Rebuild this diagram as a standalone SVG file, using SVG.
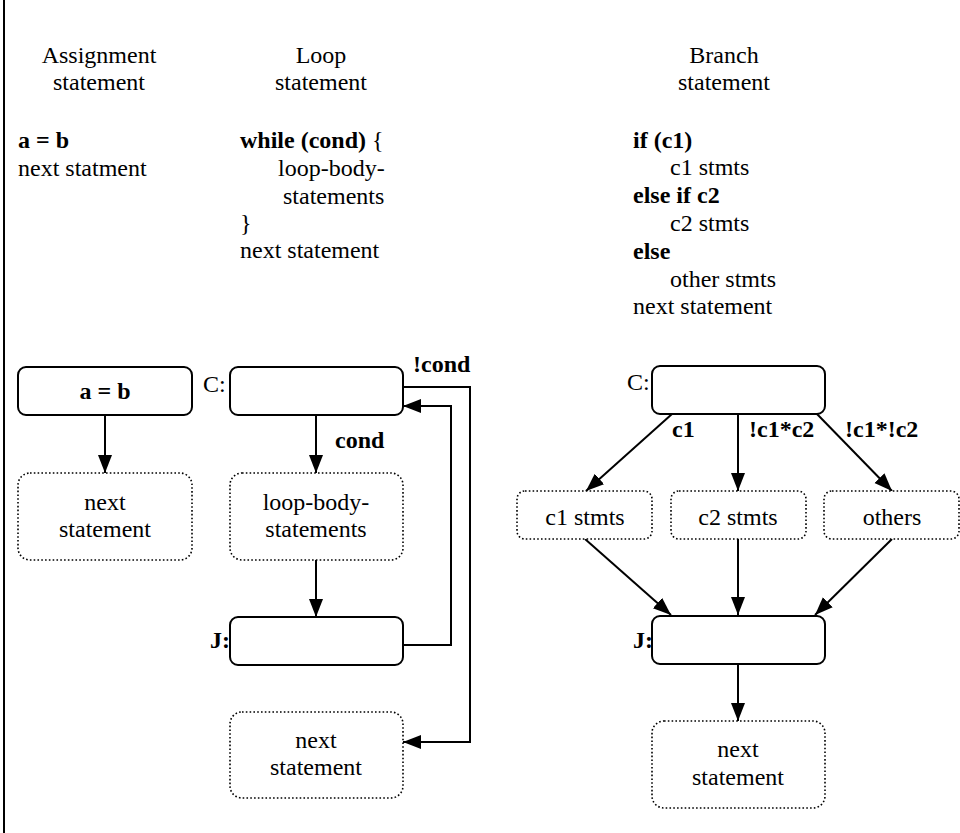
<svg xmlns="http://www.w3.org/2000/svg" width="960" height="833" viewBox="0 0 960 833" font-family="'Liberation Serif', 'Times New Roman', 'DejaVu Serif', serif">
<style>
text{font-family:'Liberation Serif','Times New Roman','DejaVu Serif',serif;font-size:24px;fill:#000}
.b{font-weight:bold}
.m{text-anchor:middle}
.solid{fill:#fff;stroke:#000;stroke-width:2}
.dot{fill:#fff;stroke:#000;stroke-width:1.6;stroke-dasharray:1.6 2.2}
.ln{fill:none;stroke:#000;stroke-width:2}
</style>
<defs>
<marker id="ah" markerUnits="userSpaceOnUse" markerWidth="20" markerHeight="16" refX="18" refY="7" orient="auto">
<path d="M0,0 L18,7 L0,14 z" fill="#000"/>
</marker>
</defs>
<rect width="960" height="833" fill="#fff"/>
<line x1="4" y1="0" x2="4" y2="833" stroke="#000" stroke-width="2"/>

<g id="headings">
<text class="m" x="99" y="63">Assignment</text>
<text class="m" x="99" y="90">statement</text>
<text class="m" x="321" y="63">Loop</text>
<text class="m" x="321" y="90">statement</text>
<text class="m" x="724" y="63">Branch</text>
<text class="m" x="724" y="90">statement</text>
</g>

<g id="code">
<text class="b" x="18" y="148">a = b</text>
<text x="18" y="176">next statment</text>
<text x="240" y="148"><tspan class="b">while (cond)</tspan> {</text>
<text x="278" y="176">loop-body-</text>
<text x="283" y="204">statements</text>
<text x="240" y="231">}</text>
<text x="240" y="258">next statement</text>
<text class="b" x="633" y="148">if (c1)</text>
<text x="670" y="175">c1 stmts</text>
<text class="b" x="633" y="203">else if c2</text>
<text x="670" y="231">c2 stmts</text>
<text class="b" x="633" y="259">else</text>
<text x="670" y="287">other stmts</text>
<text x="633" y="314">next statement</text>
</g>

<g id="connectors">
<line class="ln" x1="105" y1="415" x2="105" y2="473" marker-end="url(#ah)"/>
<line class="ln" x1="316" y1="415" x2="316" y2="473" marker-end="url(#ah)"/>
<line class="ln" x1="316" y1="560" x2="316" y2="617" marker-end="url(#ah)"/>
<polyline class="ln" points="403,645 451,645 451,406 403,406" marker-end="url(#ah)"/>
<polyline class="ln" points="403,387 470,387 470,742 403,742" marker-end="url(#ah)"/>
<line class="ln" x1="672" y1="414" x2="586" y2="491" marker-end="url(#ah)"/>
<line class="ln" x1="738" y1="414" x2="738" y2="491" marker-end="url(#ah)"/>
<line class="ln" x1="817" y1="414" x2="892" y2="491" marker-end="url(#ah)"/>
<line class="ln" x1="585" y1="539" x2="671" y2="615" marker-end="url(#ah)"/>
<line class="ln" x1="738" y1="539" x2="738" y2="615" marker-end="url(#ah)"/>
<line class="ln" x1="892" y1="539" x2="815" y2="615" marker-end="url(#ah)"/>
<line class="ln" x1="738" y1="664" x2="738" y2="721" marker-end="url(#ah)"/>
<text class="b" x="413" y="372">!cond</text>
<text class="b" x="335" y="448">cond</text>
<text class="b" x="672" y="437">c1</text>
<text class="b" x="749" y="437">!c1*c2</text>
<text class="b" x="845" y="437">!c1*!c2</text>
</g>

<g id="assign-node">
<rect class="solid" x="18" y="367" width="174" height="48" rx="8"/>
<text class="b m" x="105" y="399">a = b</text>
</g>
<g id="assign-next">
<rect class="dot" x="18" y="473" width="174" height="87" rx="12"/>
<text class="m" x="105" y="510">next</text>
<text class="m" x="105" y="537">statement</text>
</g>

<g id="loop-c">
<text x="203" y="392">C:</text>
<rect class="solid" x="230" y="367" width="173" height="48" rx="8"/>
</g>
<g id="loop-body">
<rect class="dot" x="230" y="473" width="173" height="87" rx="12"/>
<text class="m" x="316" y="510">loop-body-</text>
<text class="m" x="316" y="537">statements</text>
</g>
<g id="loop-j">
<text class="b" x="210" y="648">J:</text>
<rect class="solid" x="230" y="617" width="173" height="48" rx="8"/>
</g>
<g id="loop-next">
<rect class="dot" x="230" y="712" width="173" height="86" rx="12"/>
<text class="m" x="316" y="748">next</text>
<text class="m" x="316" y="775">statement</text>
</g>

<g id="branch-c">
<text x="627" y="390">C:</text>
<rect class="solid" x="652" y="366" width="173" height="48" rx="8"/>
</g>
<g id="branch-c1">
<rect class="dot" x="517" y="491" width="135" height="48" rx="8"/>
<text class="m" x="585" y="525">c1 stmts</text>
</g>
<g id="branch-c2">
<rect class="dot" x="671" y="491" width="135" height="48" rx="8"/>
<text class="m" x="738" y="525">c2 stmts</text>
</g>
<g id="branch-others">
<rect class="dot" x="824" y="491" width="135" height="48" rx="8"/>
<text class="m" x="892" y="525">others</text>
</g>
<g id="branch-j">
<text class="b" x="633" y="648">J:</text>
<rect class="solid" x="652" y="616" width="173" height="48" rx="8"/>
</g>
<g id="branch-next">
<rect class="dot" x="652" y="721" width="173" height="87" rx="12"/>
<text class="m" x="738" y="757">next</text>
<text class="m" x="738" y="785">statement</text>
</g>
</svg>
